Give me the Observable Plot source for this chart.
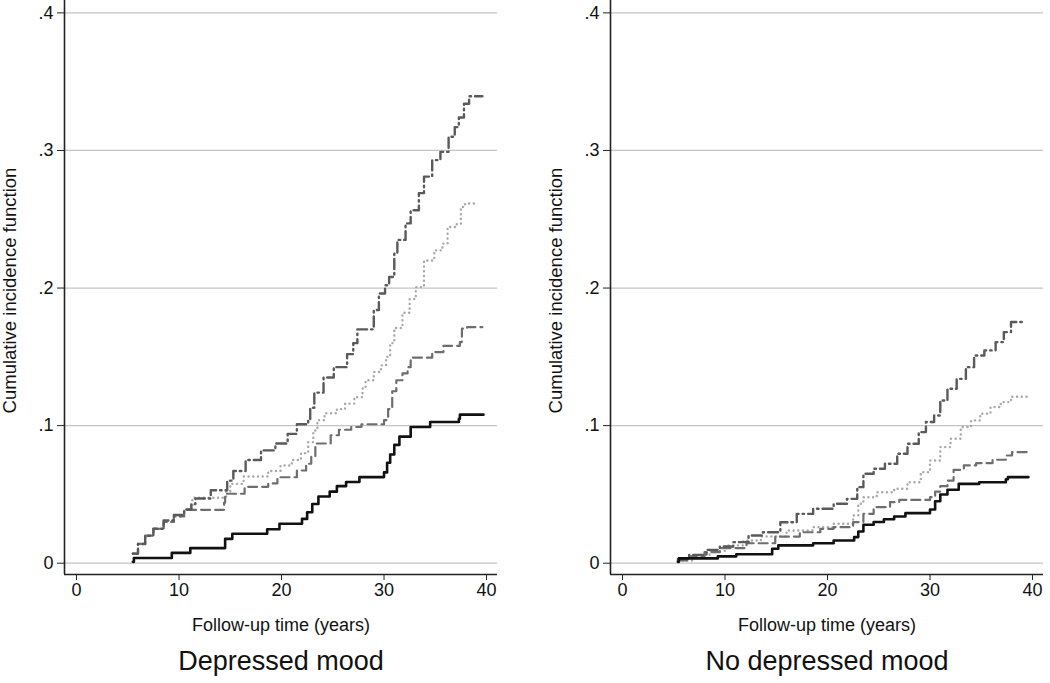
<!DOCTYPE html>
<html>
<head>
<meta charset="utf-8">
<script src="https://cdn.jsdelivr.net/npm/d3@7"></script>
<script src="https://cdn.jsdelivr.net/npm/@observablehq/plot@0.6"></script>
<style>
  html, body { margin: 0; padding: 0; background: #fff; }
  #wrap { position: relative; width: 1050px; height: 683px; background: #fff; overflow: hidden; }
  #left, #right { position: absolute; top: 0; width: 520px; height: 683px; }
  #left { left: 0; }
  #right { left: 546px; }
  #wrap svg { max-width: none !important; }
</style>
</head>
<body>
<div id="wrap"><div id="left"></div><div id="right"></div></div>
<script>
// ---- data: [follow-up time (years), cumulative incidence] at each step ----
const panelTitles = ["Depressed mood", "No depressed mood"];
const xTicks = [0, 10, 20, 30, 40];
const yTicks = [0, 0.1, 0.2, 0.3, 0.4];
const xLabel = "Follow-up time (years)";
const yLabel = "Cumulative incidence function";

// Depressed mood panel
const leftSolid = [[5.5,0.001],[5.6,0.0038],[9.3,0.0075],[11.1,0.011],[14.5,0.0177],[15.2,0.0214],[18.6,0.0247],[19.8,0.0287],[22.0,0.0322],[22.5,0.037],[23.0,0.043],[23.6,0.0485],[24.7,0.052],[25.4,0.056],[26.3,0.059],[27.6,0.0626],[30.0,0.066],[30.3,0.073],[30.6,0.079],[31.0,0.086],[31.5,0.092],[32.6,0.099],[34.5,0.1026],[37.3,0.105],[37.4,0.108],[39.7,0.108]];
const leftDashed = [[5.5,0.007],[6.0,0.014],[6.7,0.020],[7.5,0.025],[8.5,0.030],[9.5,0.034],[10.5,0.0388],[14.4,0.044],[14.5,0.0505],[16.4,0.0555],[18.7,0.058],[19.6,0.0625],[21.5,0.0674],[22.4,0.0723],[22.9,0.078],[23.3,0.087],[24.8,0.093],[25.6,0.097],[26.8,0.099],[27.8,0.101],[30.0,0.104],[30.4,0.112],[30.8,0.125],[31.2,0.133],[31.8,0.138],[32.3,0.1425],[32.6,0.1494],[34.7,0.1535],[35.8,0.158],[37.4,0.1607],[37.6,0.1705],[38.1,0.1716],[39.6,0.1716]];
const leftDotted = [[5.5,0.007],[6.0,0.014],[6.7,0.020],[7.5,0.025],[8.5,0.030],[9.5,0.034],[10.5,0.039],[11.3,0.0476],[14.6,0.052],[15.0,0.0577],[16.3,0.063],[18.7,0.067],[19.9,0.071],[21.0,0.075],[21.9,0.080],[22.6,0.088],[23.1,0.0965],[23.5,0.104],[24.2,0.109],[25.4,0.112],[26.2,0.116],[27.1,0.1207],[27.9,0.127],[28.2,0.133],[29.0,0.139],[29.7,0.1438],[30.2,0.150],[30.6,0.160],[31.0,0.171],[31.8,0.182],[32.5,0.192],[33.1,0.2007],[33.9,0.220],[34.9,0.2274],[35.7,0.2323],[36.2,0.2444],[37.1,0.2468],[37.5,0.259],[37.9,0.2614],[39.1,0.2614]];
const leftDashDot = [[5.5,0.007],[6.0,0.014],[6.7,0.020],[7.5,0.025],[8.5,0.031],[9.5,0.035],[10.5,0.039],[11.2,0.043],[11.6,0.047],[13.1,0.053],[14.7,0.060],[15.3,0.067],[16.5,0.075],[18.0,0.082],[19.4,0.087],[20.6,0.094],[21.5,0.101],[22.6,0.104],[22.8,0.113],[23.2,0.124],[24.1,0.135],[25.1,0.1425],[26.4,0.152],[27.0,0.160],[27.4,0.170],[29.0,0.184],[29.5,0.196],[30.1,0.202],[30.5,0.208],[31.0,0.225],[31.3,0.235],[32.1,0.247],[32.6,0.2565],[33.4,0.269],[33.9,0.281],[34.7,0.293],[35.5,0.299],[36.3,0.310],[36.9,0.317],[37.3,0.324],[37.8,0.334],[38.3,0.3394],[39.6,0.3394]];

// No depressed mood panel
const rightSolid = [[5.4,0.001],[5.5,0.0035],[9.3,0.005],[11.1,0.0065],[14.6,0.0105],[15.2,0.013],[18.6,0.0145],[20.6,0.0165],[22.6,0.019],[23.0,0.023],[23.5,0.028],[24.5,0.030],[25.5,0.032],[26.5,0.034],[27.6,0.0364],[30.0,0.039],[30.5,0.045],[31.0,0.050],[31.7,0.0534],[32.8,0.0577],[34.8,0.0589],[37.4,0.061],[37.6,0.0626],[39.6,0.0626]];
const rightDashed = [[5.4,0.002],[6.5,0.005],[8.0,0.008],[9.5,0.011],[12.1,0.0145],[14.9,0.0194],[17.3,0.0225],[19.3,0.025],[20.6,0.0262],[22.5,0.0298],[23.5,0.0359],[24.5,0.0407],[26.1,0.0444],[27.0,0.046],[30.0,0.048],[30.5,0.052],[31.0,0.056],[31.7,0.0601],[32.3,0.0679],[33.3,0.0711],[34.5,0.0727],[36.1,0.0752],[37.4,0.0783],[38.0,0.0807],[39.6,0.0807]];
const rightDotted = [[5.4,0.002],[7.0,0.006],[8.5,0.009],[10.0,0.013],[11.8,0.0165],[13.5,0.0195],[16.0,0.0238],[18.6,0.0262],[20.6,0.0287],[22.5,0.0347],[23.0,0.0432],[23.5,0.048],[24.8,0.0516],[26.5,0.0541],[27.8,0.0589],[29.1,0.0662],[30.0,0.0747],[31.0,0.0844],[32.0,0.0905],[33.0,0.099],[34.0,0.1038],[34.9,0.1087],[35.9,0.1135],[36.9,0.1171],[37.9,0.121],[39.6,0.121]];
const rightDashDot = [[5.4,0.003],[6.5,0.006],[8.2,0.0097],[9.5,0.0121],[10.8,0.0153],[12.3,0.0201],[13.7,0.0225],[15.4,0.0298],[17.0,0.0359],[18.6,0.0396],[20.6,0.0432],[21.9,0.0468],[22.9,0.0553],[23.5,0.065],[24.5,0.0687],[25.6,0.0723],[26.8,0.0796],[27.8,0.0868],[28.9,0.0953],[29.6,0.1026],[30.4,0.1074],[31.0,0.1183],[31.7,0.1268],[32.6,0.134],[33.5,0.1425],[34.3,0.151],[35.3,0.1547],[36.4,0.1607],[37.2,0.168],[37.9,0.1753],[39.0,0.1753]];

// ---- drawing ----
const FONT = "'Liberation Sans', Arial, Helvetica, sans-serif";
const XDOM = [-1.17, 41.07];
const YDOM = [-0.0082, 0.409];

function fmtY(d) { return d === 0 ? "0" : d3.format(".1f")(d).replace(/^0/, ""); }

function panel(solid, dashed, dotted, dashdot, title) {
  const line = (data, opts) => Plot.line(data, {x: d => d[0], y: d => d[1], curve: "step-after", ...opts});
  return Plot.plot({
    width: 520,
    height: 683,
    marginLeft: 64,
    marginRight: 23,
    marginTop: 0,
    marginBottom: 109,
    style: {fontFamily: FONT, background: "white", color: "#111"},
    x: {domain: XDOM},
    y: {domain: YDOM},
    marks: [
      Plot.ruleY(yTicks, {stroke: "#c4c4c4", strokeWidth: 1.2}),
      Plot.ruleX([XDOM[0]], {y1: YDOM[0], y2: YDOM[1], stroke: "#222", strokeWidth: 1.6}),
      Plot.ruleY([YDOM[0]], {stroke: "#222", strokeWidth: 1.6}),
      Plot.axisY({ticks: yTicks, tickFormat: fmtY, tickSize: 7, tickPadding: 4, fontSize: 18, label: null, stroke: "#222"}),
      Plot.axisX({ticks: xTicks, tickFormat: d => String(d), tickSize: 6, tickPadding: 3, fontSize: 18, label: null, stroke: "#222"}),
      line(dotted,  {stroke: "#a8a8a8", strokeWidth: 2.4, strokeDasharray: "0.1,4.6", strokeLinecap: "round"}),
      line(dashed,  {stroke: "#6e6e6e", strokeWidth: 2.2, strokeDasharray: "9,5"}),
      line(dashdot, {stroke: "#5a5a5a", strokeWidth: 2.4, strokeDasharray: "10,4,1.5,4"}),
      line(solid,   {stroke: "#111", strokeWidth: 2.6}),
      Plot.text([yLabel], {frameAnchor: "left", textAnchor: "middle", dx: -54, dy: 3, rotate: -90, fontSize: 18.5, fill: "#111", style: "letter-spacing:0.6px"}),
      Plot.text([xLabel], {frameAnchor: "bottom", dy: 51, lineAnchor: "middle", fontSize: 18, fill: "#111"}),
      Plot.text([title], {frameAnchor: "bottom", dy: 87, lineAnchor: "middle", fontSize: 27, fill: "#111"})
    ]
  });
}

document.getElementById("left").append(panel(leftSolid, leftDashed, leftDotted, leftDashDot, panelTitles[0]));
document.getElementById("right").append(panel(rightSolid, rightDashed, rightDotted, rightDashDot, panelTitles[1]));
</script>
</body>
</html>
